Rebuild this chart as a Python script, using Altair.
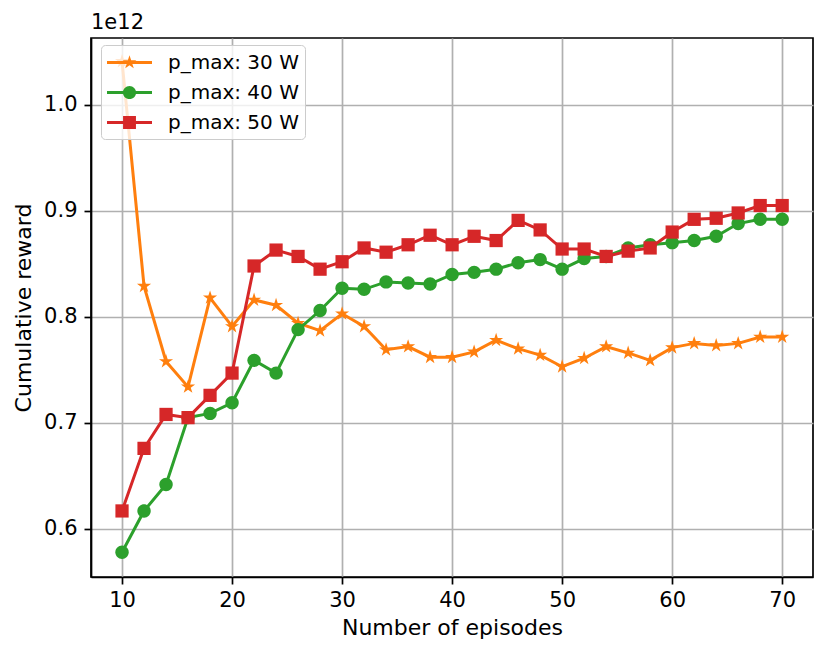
import math
import altair as alt
import pandas as pd

episodes = list(range(10, 71, 2))
series_names = ["p_max: 30 W", "p_max: 40 W", "p_max: 50 W"]
colors = ["#ff7f0e", "#2ca02c", "#d62728"]

# values in units of 1e12
reward_30 = [1.041, 0.829, 0.758, 0.734, 0.818, 0.791, 0.816, 0.811, 0.794, 0.787,
             0.803, 0.791, 0.769, 0.772, 0.762, 0.762, 0.767, 0.778, 0.770, 0.764,
             0.753, 0.761, 0.772, 0.766, 0.759, 0.771, 0.775, 0.773, 0.775, 0.781, 0.781]
reward_40 = [0.578, 0.617, 0.642, 0.705, 0.709, 0.719, 0.759, 0.747, 0.788, 0.806,
             0.827, 0.826, 0.833, 0.832, 0.831, 0.840, 0.842, 0.845, 0.851, 0.854,
             0.845, 0.855, 0.857, 0.865, 0.868, 0.870, 0.872, 0.876, 0.888, 0.892, 0.892]
reward_50 = [0.617, 0.676, 0.708, 0.705, 0.726, 0.747, 0.848, 0.863, 0.857, 0.845,
             0.852, 0.865, 0.861, 0.868, 0.877, 0.868, 0.876, 0.872, 0.891, 0.882,
             0.864, 0.864, 0.857, 0.862, 0.865, 0.880, 0.892, 0.893, 0.898, 0.905, 0.905]

x_ticks = [10, 20, 30, 40, 50, 60, 70]
y_ticks = [0.6, 0.7, 0.8, 0.9, 1.0]

rows = []
for name, vals in zip(series_names, [reward_30, reward_40, reward_50]):
    for e, v in zip(episodes, vals):
        rows.append({"episodes": e, "reward": v, "series": name})
df = pd.DataFrame(rows)

FONT = "DejaVu Sans"


def f(v):
    return f"{v:.4f}"


def star(R, cx=0.0, ratio=0.382):
    pts = []
    for k in range(10):
        ang = math.radians(-90 + 36 * k)
        rad = R if k % 2 == 0 else R * ratio
        pts.append((cx + rad * math.cos(ang), rad * math.sin(ang)))
    return "M" + "L".join(f"{f(px)},{f(py)}" for px, py in pts) + "Z"


def square(a, cx=0.0):
    return f"M{f(cx - a)},{f(-a)}H{f(cx + a)}V{f(a)}H{f(cx - a)}Z"


def circle(c, cx=0.0):
    return (f"M{f(cx - c)},0A{f(c)},{f(c)} 0 1,1 {f(cx + c)},0"
            f"A{f(c)},{f(c)} 0 1,1 {f(cx - c)},0Z")


# marker shapes for the data points (unit box -1..1)
point_shapes = [star(1.0), circle(1.0), square(1.0)]
point_sizes = [220, 180, 175]

# legend symbols: line segment + marker (unit = 11.5 px)
t = 0.13
mx = 0.957
line_path = f"M-1,{f(-t)}H2.913V{f(t)}H-1Z"
legend_paths = [line_path + star(0.63, mx),
                line_path + circle(0.575, mx),
                line_path + square(0.56, mx)]

x_scale = alt.Scale(domain=[7.18, 72.8], nice=False, zero=False)
y_scale = alt.Scale(domain=[0.5547, 1.063], nice=False, zero=False)

x_axis = alt.Axis(values=x_ticks, format="d", title="Number of episodes",
                  grid=True, gridColor="#b0b0b0", gridWidth=1.7,
                  tickSize=7, tickWidth=1.7, tickColor="black",
                  domainColor="black", domainWidth=1.7,
                  labelFont=FONT, labelFontSize=21, labelColor="black", labelPadding=5,
                  titleFont=FONT, titleFontSize=22, titleFontWeight="normal",
                  titleColor="black", titlePadding=7)
y_axis = alt.Axis(values=y_ticks, format=".1f", title="Cumulative reward",
                  grid=True, gridColor="#b0b0b0", gridWidth=1.7,
                  tickSize=7, tickWidth=1.7, tickColor="black",
                  domainColor="black", domainWidth=1.7,
                  labelFont=FONT, labelFontSize=21, labelColor="black", labelPadding=7,
                  titleFont=FONT, titleFontSize=22, titleFontWeight="normal",
                  titleColor="black", titlePadding=8)

X = alt.X("episodes:Q", scale=x_scale, axis=x_axis)
Y = alt.Y("reward:Q", scale=y_scale, axis=y_axis)

layers = []
for name, col, shp, sz in zip(series_names, colors, point_shapes, point_sizes):
    base = alt.Chart(df).transform_filter(alt.datum.series == name)
    layers.append(base.mark_line(color=col, strokeWidth=3).encode(x=X, y=Y))
    layers.append(base.mark_point(shape=shp, filled=True, color=col, opacity=1,
                                  size=sz).encode(x=X, y=Y))

legend_layer = alt.Chart(df).mark_point(filled=True, size=0, opacity=1).encode(
    x=X, y=Y,
    color=alt.Color("series:N",
                    scale=alt.Scale(domain=series_names, range=colors),
                    legend=alt.Legend(
                        title=None, orient="none", legendX=10, legendY=7,
                        symbolSize=529, symbolOpacity=1, symbolStrokeWidth=0,
                        labelFont=FONT, labelFontSize=20, labelColor="black",
                        labelOffset=38, rowPadding=8, padding=6,
                        fillColor="rgba(255,255,255,0.8)", strokeColor="#cccccc",
                        cornerRadius=4)),
    shape=alt.Shape("series:N",
                    scale=alt.Scale(domain=series_names, range=legend_paths)),
)

chart = alt.layer(*layers, legend_layer).properties(
    width=722, height=539,
    title=alt.TitleParams("1e12", anchor="start", frame="group", fontSize=21,
                          font=FONT, fontWeight="normal", color="black", offset=5),
    autosize=alt.AutoSizeParams(type="none"),
    padding={"left": 83, "top": 30, "right": 10, "bottom": 70},
    background="white",
).configure_view(stroke="black", strokeWidth=1.7)

chart.save("out.html", embed_options={"renderer": "svg", "actions": False})
